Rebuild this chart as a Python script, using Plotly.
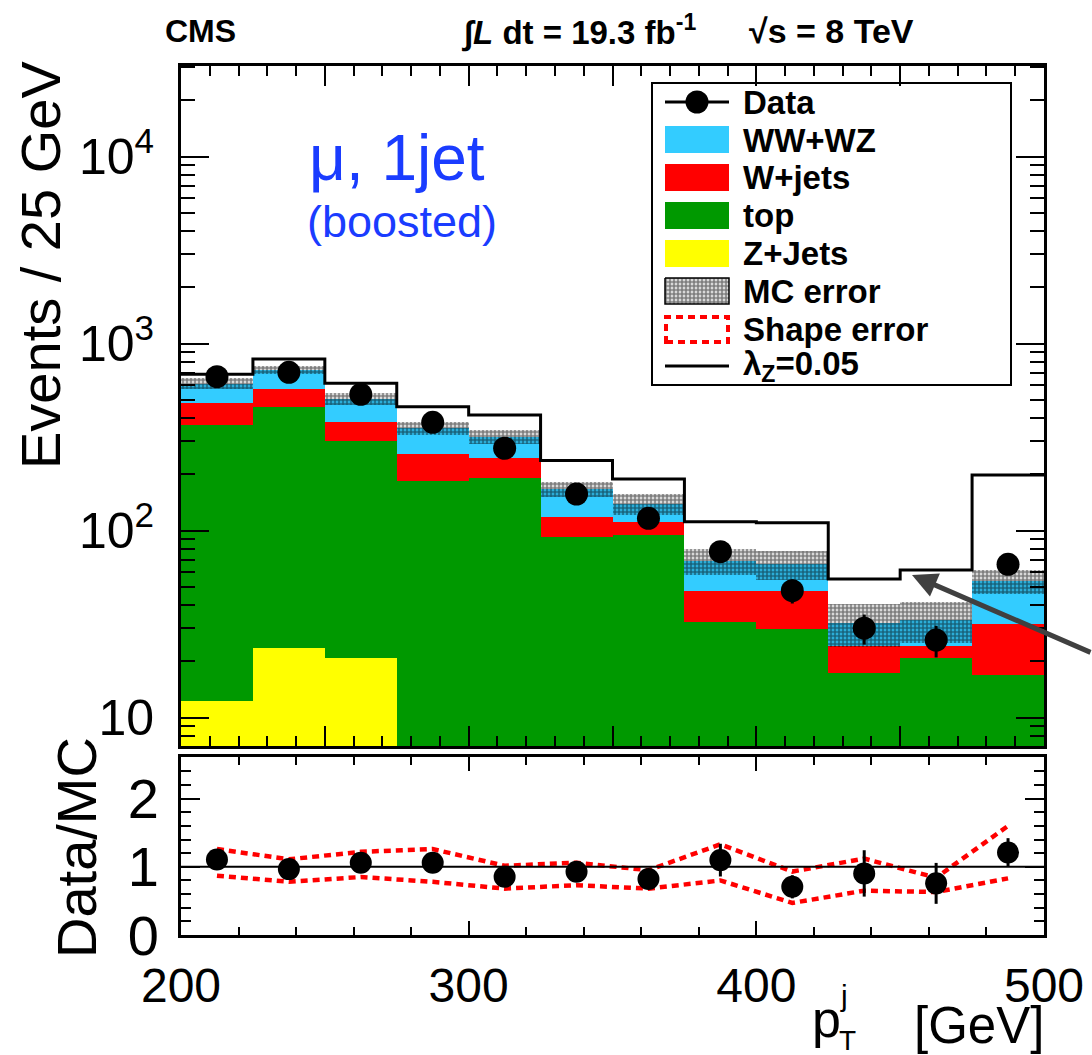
import plotly.graph_objects as go

# ---------------- data ----------------
bin_edges = [200, 225, 250, 275, 300, 325, 350, 375, 400, 425, 450, 475, 500]
bin_centers = [212.5, 237.5, 262.5, 287.5, 312.5, 337.5, 362.5, 387.5, 412.5, 437.5, 462.5, 487.5]

zjets = [12.3, 23.7, 20.9, 0, 0, 0, 0, 0, 0, 0, 0, 0]
top = [355.2, 433.3, 282.1, 184.5, 190.6, 92.9, 94.8, 32.6, 29.7, 17.3, 20.8, 16.9]
wjets = [112.5, 115.0, 80.0, 72.5, 53.4, 25.9, 16.9, 15.0, 17.9, 6.9, 3.5, 14.8]
wwwz = [131.0, 151.0, 124.0, 97.0, 74.0, 48.2, 27.3, 21.3, 18.8, 8.0, 9.0, 22.1]
mc_err = [42, 37, 36, 29, 28, 16, 17.6, 10.7, 11.8, 8.4, 8.1, 7.8]
lambda_z = [686, 828, 614, 460, 416, 237, 189, 111.7, 110.4, 55.2, 61.6, 198.6]
data = [666, 703, 536, 380, 276, 157, 116.5, 77.2, 47.8, 30.1, 26.0, 66.1]
data_err = [26, 27, 23, 19, 17, 12.5, 11, 9, 7, 5.5, 5, 8]

ratio = [1.108, 0.966, 1.059, 1.059, 0.854, 0.927, 0.82, 1.098, 0.707, 0.903, 0.757, 1.21]
ratio_err = [0.08, 0.08, 0.09, 0.10, 0.11, 0.13, 0.14, 0.24, 0.17, 0.34, 0.30, 0.21]
shape_up = [1.26, 1.11, 1.22, 1.26, 1.015, 1.06, 0.95, 1.33, 0.93, 1.12, 0.84, 1.60]
shape_dn = [0.87, 0.78, 0.85, 0.78, 0.68, 0.73, 0.68, 0.80, 0.47, 0.65, 0.63, 0.83]

main_ytickvals = [10, 100, 1000, 10000]
main_yticktext = ["10", "10<sup>2</sup>", "10<sup>3</sup>", "10<sup>4</sup>"]
main_yminor = [8, 9] + [k * 10 for k in range(2, 10)] + [k * 100 for k in range(2, 10)] + \
              [k * 1000 for k in range(2, 10)] + [20000, 30000]

C_WW = "#33ccff"
C_WJ = "#ff0000"
C_TOP = "#009900"
C_Z = "#ffff00"
FONT = "Liberation Sans, Arial, Helvetica, sans-serif"

W, H = 1092, 1055


def px(x):
    return x / W


def py(y):
    return 1 - y / H


# cumulative stacking
base_top = [z for z in zjets]
base_wj = [b + t for b, t in zip(base_top, top)]
base_ww = [b + w for b, w in zip(base_wj, wjets)]
total = [b + w for b, w in zip(base_ww, wwwz)]

HATCH = dict(shape=".", fgcolor="black", size=4, solidity=0.75)

fig = go.Figure()

bar_common = dict(x=bin_centers, width=25, xaxis="x", yaxis="y", opacity=1,
                  marker_line_width=0, showlegend=False, hoverinfo="skip")
fig.add_trace(go.Bar(y=zjets, base=[0] * 12, marker_color=C_Z, **bar_common))
fig.add_trace(go.Bar(y=top, base=base_top, marker_color=C_TOP, **bar_common))
fig.add_trace(go.Bar(y=wjets, base=base_wj, marker_color=C_WJ, **bar_common))
fig.add_trace(go.Bar(y=wwwz, base=base_ww, marker_color=C_WW, **bar_common))

# MC error band (hatched)
fig.add_trace(go.Bar(
    x=bin_centers, width=25, xaxis="x", yaxis="y",
    base=[t - e for t, e in zip(total, mc_err)],
    y=[2 * e for e in mc_err],
    marker=dict(color="rgba(0,0,0,0)", line_width=0,
                pattern=dict(bgcolor="rgba(0,0,0,0)", fillmode="overlay", **HATCH)),
    showlegend=False, hoverinfo="skip"))

# lambda_Z step line
fig.add_trace(go.Scatter(
    x=bin_edges, y=lambda_z + [lambda_z[-1]], mode="lines", line_shape="hv",
    line=dict(color="black", width=3), xaxis="x", yaxis="y", showlegend=False))

# data
fig.add_trace(go.Scatter(
    x=bin_centers, y=data, mode="markers",
    marker=dict(color="black", size=23),
    error_y=dict(type="data", array=data_err, color="black", thickness=3, width=0),
    xaxis="x", yaxis="y", showlegend=False))

# ratio panel
fig.add_trace(go.Scatter(x=bin_centers, y=shape_up, mode="lines",
                         line=dict(color="red", width=4.5, dash="7px,5px"),
                         xaxis="x2", yaxis="y2", showlegend=False))
fig.add_trace(go.Scatter(x=bin_centers, y=shape_dn, mode="lines",
                         line=dict(color="red", width=4.5, dash="7px,5px"),
                         xaxis="x2", yaxis="y2", showlegend=False))
fig.add_trace(go.Scatter(
    x=bin_centers, y=ratio, mode="markers",
    marker=dict(color="black", size=22),
    error_y=dict(type="data", array=ratio_err, color="black", thickness=3, width=0),
    xaxis="x2", yaxis="y2", showlegend=False))

# legend hatch symbol on a pixel overlay axis
fig.add_trace(go.Scatter(
    x=[665, 729, 729, 665, 665], y=[278, 278, 304, 304, 278], mode="lines",
    fill="toself", fillcolor="white",
    fillpattern=dict(bgcolor="white", **HATCH),
    line=dict(color="black", width=1.5), xaxis="x3", yaxis="y3", showlegend=False,
    hoverinfo="skip"))
fig.add_trace(go.Scatter(
    x=[665, 729], y=[102, 102], mode="lines", line=dict(color="black", width=3),
    xaxis="x3", yaxis="y3", showlegend=False, hoverinfo="skip"))
fig.add_trace(go.Scatter(
    x=[697], y=[102], mode="markers", marker=dict(color="black", size=23),
    xaxis="x3", yaxis="y3", showlegend=False, hoverinfo="skip"))
fig.add_trace(go.Scatter(
    x=[665, 729], y=[366, 366], mode="lines", line=dict(color="black", width=3),
    xaxis="x3", yaxis="y3", showlegend=False, hoverinfo="skip"))

xdom = [181 / W, 1044 / W]
axis_common = dict(showline=True, linecolor="black", linewidth=3, mirror="ticks",
                   ticks="inside", tickcolor="black", tickwidth=2, showgrid=False,
                   zeroline=False, automargin=False)

fig.update_layout(
    width=W, height=H,
    margin=dict(l=0, r=0, t=0, b=0, autoexpand=False),
    paper_bgcolor="white", plot_bgcolor="rgba(0,0,0,0)",
    barmode="overlay", bargap=0,
    font=dict(family=FONT, color="black"),
    xaxis=dict(domain=xdom, range=[200, 500], anchor="y", dtick=50, tick0=200,
               ticklen=20, showticklabels=False,
               minor=dict(ticks="inside", dtick=10, ticklen=10, tickwidth=2, tickcolor="black"),
               **axis_common),
    yaxis=dict(domain=[py(746), py(66)], type="log", range=[0.8487, 4.485], anchor="x",
               tickmode="array", tickvals=main_ytickvals, ticktext=main_yticktext,
               ticklen=28, tickfont=dict(size=50), ticklabelstandoff=14,
               minor=dict(tickmode="array", tickvals=main_yminor, ticks="inside",
                          ticklen=14, tickwidth=2, tickcolor="black"),
               **axis_common),
    xaxis2=dict(domain=xdom, range=[200, 500], anchor="y2", dtick=100, tick0=200,
                ticklen=14, tickfont=dict(size=48), ticklabelstandoff=6,
                minor=dict(ticks="inside", dtick=20, ticklen=8, tickwidth=2, tickcolor="black"),
                **axis_common),
    yaxis2=dict(domain=[py(935), py(757)], range=[0, 2.61], anchor="x2",
                tickmode="array", tickvals=[0, 1, 2], ticktext=["0", "1", "2"],
                ticklen=19, tickfont=dict(size=56), ticklabelstandoff=8,
                minor=dict(ticks="inside", dtick=0.2, tick0=0, ticklen=10, tickwidth=2,
                           tickcolor="black"),
                **axis_common),
    xaxis3=dict(domain=[0, 1], range=[0, W], anchor="y3", visible=False, fixedrange=True,
                automargin=False),
    yaxis3=dict(domain=[0, 1], range=[H, 0], anchor="x3", visible=False, fixedrange=True,
                automargin=False),
)

shapes = []
# unity line in ratio panel
shapes.append(dict(type="line", xref="x2", yref="y2", x0=200, x1=500, y0=1, y1=1,
                   line=dict(color="black", width=2)))
# legend box
shapes.append(dict(type="rect", xref="paper", yref="paper", x0=px(652), x1=px(1011),
                   y0=py(385), y1=py(83), line=dict(color="black", width=2),
                   fillcolor="rgba(0,0,0,0)"))
for (y0, y1, col) in [(126, 153, C_WW), (164, 191, C_WJ), (202, 229, C_TOP), (240, 267, C_Z)]:
    shapes.append(dict(type="rect", xref="paper", yref="paper", x0=px(665), x1=px(729),
                       y0=py(y1), y1=py(y0), line=dict(width=0), fillcolor=col))
shapes.append(dict(type="rect", xref="paper", yref="paper", x0=px(666), x1=px(728),
                   y0=py(342), y1=py(317), line=dict(color="red", width=4, dash="7px,5px"),
                   fillcolor="rgba(0,0,0,0)"))
fig.update_layout(shapes=shapes)

ann = []
leg_items = [("Data", 102), ("WW+WZ", 140), ("W+jets", 177), ("top", 215),
             ("Z+Jets", 253), ("MC error", 292), ("Shape error", 329),
             ("λ<sub>Z</sub>=0.05", 366)]
for txt, yy in leg_items:
    ann.append(dict(text="<b>" + txt + "</b>", x=px(741), y=py(yy), xref="paper", yref="paper",
                    xanchor="left", yanchor="middle", showarrow=False,
                    font=dict(size=33, family=FONT, color="black")))

# header
ann.append(dict(text="<b>CMS</b>", x=px(200), y=py(31), xref="paper", yref="paper",
                xanchor="center", yanchor="middle", showarrow=False, font=dict(size=32)))
ann.append(dict(text="<b>∫<i>L</i> dt = 19.3 fb<sup>-1</sup></b>", x=px(578), y=py(31),
                xref="paper", yref="paper", xanchor="center", yanchor="middle",
                showarrow=False, font=dict(size=33)))
ann.append(dict(text="<b>√s = 8 TeV</b>", x=px(831), y=py(31), xref="paper", yref="paper",
                xanchor="center", yanchor="middle", showarrow=False, font=dict(size=34)))

# channel label
ann.append(dict(text="μ, 1jet", x=px(397), y=py(158), xref="paper", yref="paper",
                xanchor="center", yanchor="middle", showarrow=False,
                font=dict(size=64, color="#1a3cff")))
ann.append(dict(text="(boosted)", x=px(402), y=py(222), xref="paper", yref="paper",
                xanchor="center", yanchor="middle", showarrow=False,
                font=dict(size=45, color="#1a3cff")))

# axis titles
ann.append(dict(text="Events / 25 GeV", x=px(40), y=py(265), xref="paper", yref="paper",
                xanchor="center", yanchor="middle", textangle=-90, showarrow=False,
                font=dict(size=56)))
ann.append(dict(text="Data/MC", x=px(76), y=py(848), xref="paper", yref="paper",
                xanchor="center", yanchor="middle", textangle=-90, showarrow=False,
                font=dict(size=56)))
ann.append(dict(text="[GeV]", x=px(1046), y=py(1025), xref="paper", yref="paper",
                xanchor="right", yanchor="middle", showarrow=False, font=dict(size=51)))
ann.append(dict(text="p", x=px(826), y=py(1019), xref="paper", yref="paper",
                xanchor="center", yanchor="middle", showarrow=False, font=dict(size=52)))
ann.append(dict(text="j", x=px(844), y=py(995), xref="paper", yref="paper",
                xanchor="center", yanchor="middle", showarrow=False, font=dict(size=30)))
ann.append(dict(text="T", x=px(847), y=py(1040), xref="paper", yref="paper",
                xanchor="center", yanchor="middle", showarrow=False, font=dict(size=28)))

# arrow pointing to the lambda_Z histogram
ann.append(dict(text="", x=px(912), y=py(575), xref="paper", yref="paper",
                ax=180, ay=78, axref="pixel", ayref="pixel", showarrow=True,
                arrowhead=2, arrowsize=1, arrowwidth=5, arrowcolor="#404040"))

fig.update_layout(annotations=ann)

fig.write_html("out.html",
               config={"displayModeBar": False},
               post_script="document.body.style.margin='0px';"
                           "document.body.style.overflow='hidden';")
